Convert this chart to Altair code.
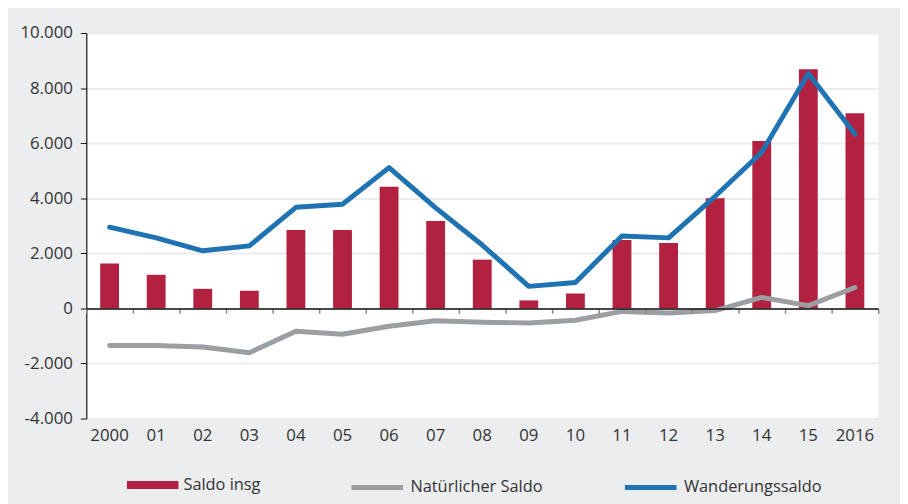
import altair as alt
import pandas as pd

years = ["2000", "01", "02", "03", "04", "05", "06", "07", "08", "09",
         "10", "11", "12", "13", "14", "15", "2016"]
saldo_insg = [1630, 1220, 710, 640, 2850, 2850, 4420, 3170, 1770, 290,
              540, 2480, 2370, 4000, 6080, 8680, 7090]
natuerlicher_saldo = [-1345, -1350, -1400, -1610, -830, -940, -650, -450, -500, -530,
                      -430, -110, -170, -80, 400, 100, 760]
wanderungssaldo = [2950, 2560, 2090, 2270, 3670, 3780, 5110, 3650, 2300, 800,
                   940, 2630, 2560, 4070, 5670, 8530, 6330]
y_ticks = [-4000, -2000, 0, 2000, 4000, 6000, 8000, 10000]

RED = "#b22240"
GRAY = "#9b9ea2"
BLUE = "#1f73b2"
BG = "#ecedef"
TXT = "#333333"
FONT = "Open Sans"

df = pd.DataFrame({
    "year": years,
    "saldo": saldo_insg,
    "nat": natuerlicher_saldo,
    "wand": wanderungssaldo,
})

PLOT_W, PLOT_H = 799, 389
zero_offset = -PLOT_H * (0 - y_ticks[0]) / (y_ticks[-1] - y_ticks[0])

xscale = alt.Scale(paddingInner=0, paddingOuter=0)
yscale = alt.Scale(domain=[y_ticks[0], y_ticks[-1]], nice=False)

x_labels = alt.X("year:N", sort=years, scale=xscale,
                 axis=alt.Axis(title=None, orient="bottom", labelAngle=0, ticks=False,
                               domain=False, grid=False, labelPadding=9,
                               labelFontSize=17, labelColor=TXT, labelFont=FONT))
x_none = alt.X("year:N", sort=years, scale=xscale, axis=None)
x_zero = alt.X("year:N", sort=years, scale=xscale,
               axis=alt.Axis(title=None, orient="bottom", labels=False, domain=True,
                             domainColor="#111111", domainWidth=1.5, ticks=True,
                             tickColor="#8a8a8a", tickWidth=1.5, tickSize=5,
                             bandPosition=1, tickExtra=True, grid=False,
                             offset=zero_offset, zindex=1))

yaxis = alt.Axis(title=None, values=y_ticks, grid=True, gridColor="#ececec", gridWidth=2,
                 domainColor="#111111", domainWidth=1.2, tickColor="#111111", tickSize=6,
                 labelPadding=8, labelFontSize=17, labelColor=TXT, labelFont=FONT,
                 labelExpr="(datum.value < 0 ? '-' : '') + replace(format(abs(datum.value), ','), ',', '.')")

leg_common = dict(orient="none", title=None, direction="horizontal", labelFontSize=16.5,
                  labelColor=TXT, labelFont=FONT, labelOffset=5, symbolSize=2704,
                  padding=0, legendY=430)

bars = alt.Chart(df).transform_calculate(lbl="'Saldo insg'").mark_bar(width=19).encode(
    x=x_labels,
    y=alt.Y("saldo:Q", scale=yscale, axis=yaxis),
    fill=alt.Fill("lbl:N",
                  scale=alt.Scale(domain=["Saldo insg"], range=[RED]),
                  legend=alt.Legend(legendX=41, symbolType="M-1,-0.154H1V0.154H-1Z",
                                    symbolStrokeWidth=0, symbolOpacity=1, **leg_common)),
)

nat = alt.Chart(df).transform_calculate(lbl="'Natürlicher Saldo'").mark_line(
    strokeWidth=5, strokeCap="round", strokeJoin="round").encode(
    x=x_none,
    y=alt.Y("nat:Q", scale=yscale, axis=yaxis),
    stroke=alt.Stroke("lbl:N",
                      scale=alt.Scale(domain=["Natürlicher Saldo"], range=[GRAY]),
                      legend=alt.Legend(legendX=265, symbolType="stroke",
                                        symbolStrokeWidth=5, **leg_common)),
)

wand = alt.Chart(df).transform_calculate(lbl="'Wanderungssaldo'").mark_line(
    strokeWidth=5, strokeCap="round", strokeJoin="round").encode(
    x=x_zero,
    y=alt.Y("wand:Q", scale=yscale, axis=yaxis),
    color=alt.Color("lbl:N",
                    scale=alt.Scale(domain=["Wanderungssaldo"], range=[BLUE]),
                    legend=alt.Legend(legendX=541, symbolType="stroke",
                                      symbolStrokeWidth=5, **leg_common)),
)

chart = alt.layer(bars, nat, wand).resolve_axis(x="independent").resolve_scale(
    stroke="independent", color="independent", fill="independent"
).properties(
    width=PLOT_W, height=PLOT_H,
    autosize=alt.AutoSizeParams(type="none"),
    padding={"left": 79, "top": 23, "right": 22, "bottom": 84},
    background=BG,
).configure_view(fill="white", stroke=None)

chart.save("out.html", embed_options={"renderer": "svg", "actions": False})
